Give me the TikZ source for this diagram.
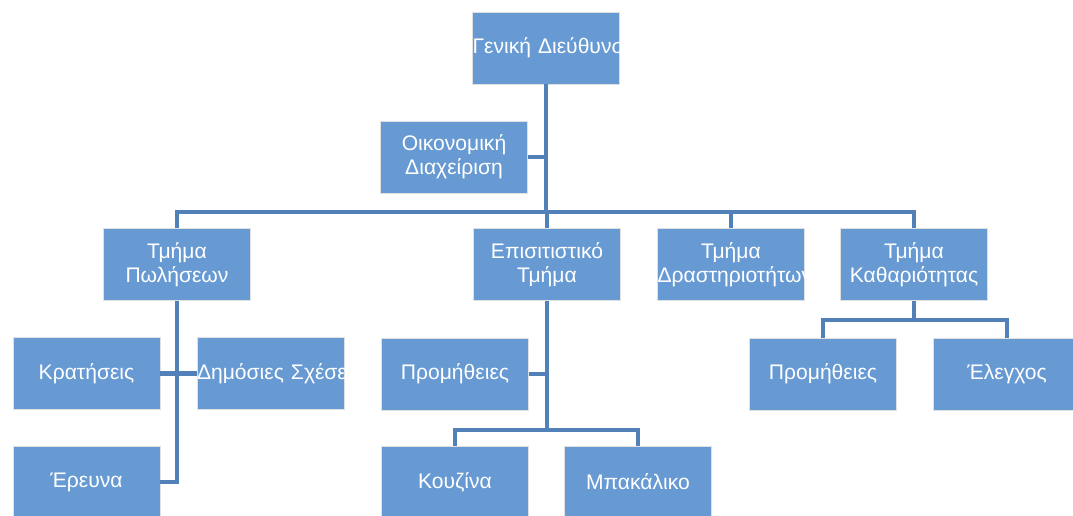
\documentclass[tikz,border=0pt]{standalone}
\usepackage{fontspec}
\setmainfont{Liberation Sans}
\usepackage{tikz}
\usetikzlibrary{positioning, calc}
\definecolor{boxblue}{RGB}{103,154,211}
\definecolor{linkblue}{RGB}{82,129,186}
\tikzset{
  orgbox/.style={rectangle, fill=boxblue, draw=black!12, line width=0.5pt,
    minimum width=2.94cm, minimum height=1.44cm, text width=2.94cm,
    inner sep=0pt, align=center, text=white, font=\fontsize{12}{13.5}\selectfont},
  link/.style={draw=linkblue, line width=2.3pt}
}

\begin{document}
\begin{tikzpicture}
  \useasboundingbox (0,0) rectangle (21.46,10.30);

  % Top level
  \node[orgbox] (gd) at (10.92, 9.34) {\mbox{Γενική Διεύθυνση}};
  \node[orgbox] (oik) at (9.08, 7.16) {Οικονομική\\Διαχείριση};

  % Departments
  \node[orgbox] (pol) at (3.54, 5.01) {Τμήμα\\Πωλήσεων};
  \node[orgbox] (epi) at (10.94, 5.01) {Επισιτιστικό\\Τμήμα};
  \node[orgbox] (dra) at (14.62, 5.01) {Τμήμα\\\mbox{Δραστηριοτήτων}};
  \node[orgbox] (kath) at (18.28, 5.01) {Τμήμα\\Καθαριότητας};

  % Sales units
  \node[orgbox] (krat) at (1.73, 2.83) {Κρατήσεις};
  \node[orgbox] (dims) at (5.41, 2.83) {\mbox{Δημόσιες Σχέσεις}};
  \node[orgbox] (erev) at (1.73, 0.66) {Έρευνα};

  % Catering units
  \node[orgbox] (prom) at (9.10, 2.82) {Προμήθειες};
  \node[orgbox] (kouz) at (9.10, 0.66) {Κουζίνα};
  \node[orgbox] (bak) at (12.76, 0.66) {Μπακάλικο};

  % Cleaning units
  \node[orgbox] (promk) at (16.46, 2.82) {Προμήθειες};
  \node[orgbox] (eleg) at (20.14, 2.82) {Έλεγχος};

  % Bus lines
  \coordinate (mainbar) at (0, 6.06);
  \coordinate (epibar) at (0, 1.70);
  \coordinate (kathbar) at (0, 3.90);

  % Connectors
  \draw[link] (gd.south) -- (gd.south |- mainbar);
  \draw[link] (oik.east) -- (oik.east -| gd.south);
  \draw[link] (pol.north) |- (gd.south |- mainbar) -| (kath.north);
  \draw[link] (epi.north) -- (epi.north |- mainbar);
  \draw[link] (dra.north) -- (dra.north |- mainbar);

  \draw[link] (pol.south) -- (pol.south |- erev.east) -- (erev.east);
  \draw[link] (krat.east) -- (dims.west);

  \draw[link] (epi.south) -- (epi.south |- epibar);
  \draw[link] (prom.east) -- (prom.east -| epi.south);
  \draw[link] (kouz.north) |- (epi.south |- epibar) -| (bak.north);

  \draw[link] (kath.south) -- (kath.south |- kathbar);
  \draw[link] (promk.north) |- (kath.south |- kathbar) -| (eleg.north);
\end{tikzpicture}
\end{document}
